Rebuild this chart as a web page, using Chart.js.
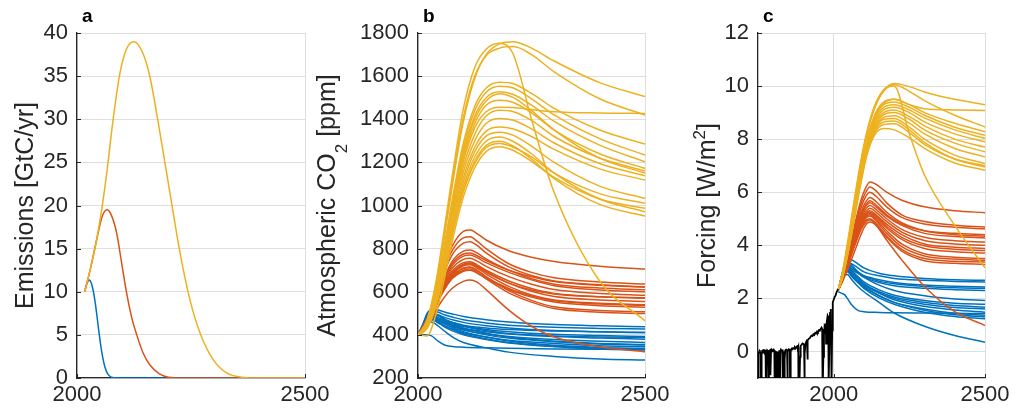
<!DOCTYPE html>
<html>
<head>
<meta charset="utf-8">
<script src="https://cdn.jsdelivr.net/npm/chart.js@4/dist/chart.umd.min.js"></script>
<style>
  html, body { margin: 0; padding: 0; background: #fff; }
  #wrap { position: relative; width: 1016px; height: 410px; }
  #wrap canvas { position: absolute; left: 0; top: 0; }
</style>
</head>
<body>
<div id="wrap">
  <canvas id="ca" width="1016" height="410"></canvas>
  <canvas id="cb" width="1016" height="410"></canvas>
  <canvas id="cc" width="1016" height="410"></canvas>
</div>
<script>
// ---------------- Panel a : emissions [GtC/yr] ----------------
const aXTicks = [2000, 2500];
const aYTicks = [0, 5, 10, 15, 20, 25, 30, 35, 40];
const aYearsBlue = [2018, 2022, 2027, 2032, 2036, 2040, 2044, 2048, 2052, 2056, 2061, 2067, 2075, 2090, 2500];
const aBlue = [10.3, 11.0, 11.35, 10.9, 10.0, 8.7, 7.1, 5.4, 3.8, 2.5, 1.3, 0.5, 0.1, 0, 0];
const aYearsRed = [2017, 2030, 2043, 2055, 2066, 2076, 2087, 2098, 2109, 2120, 2131, 2145, 2160, 2180, 2200, 2240, 2500];
const aRed = [10, 12.8, 16, 18.7, 19.5, 18.8, 16.8, 13.3, 9.8, 7.0, 5.0, 2.9, 1.5, 0.5, 0.1, 0, 0];
const aYearsYellow = [2017, 2030, 2043, 2055, 2065, 2080, 2094, 2109, 2125, 2145, 2160, 2182, 2204, 2226, 2248, 2270, 2299, 2328, 2360, 2400, 2500];
const aYellow = [10, 12.8, 16, 19.8, 23.7, 30.3, 35.3, 38.2, 39, 37.6, 34.9, 28.4, 21.4, 14.5, 9.0, 5.2, 2.1, 0.6, 0.1, 0, 0];

// ---------------- Panel b : atmospheric CO2 [ppm] ----------------
const bXTicks = [2000, 2500];
const bYTicks = [200, 400, 600, 800, 1000, 1200, 1400, 1600, 1800];
const bYearsBlue = [2000, 2010, 2020, 2030, 2045, 2060, 2080, 2100, 2150, 2200, 2300, 2400, 2500];
const bBlue = [
  [400, 440, 490, 520, 515, 505, 495, 485, 470, 460, 448, 442, 438],
  [400, 445, 500, 515, 505, 492, 480, 470, 455, 445, 435, 430, 427],
  [400, 440, 480, 500, 492, 480, 468, 458, 442, 432, 420, 414, 410],
  [400, 435, 470, 485, 475, 462, 450, 440, 425, 415, 403, 397, 392],
  [400, 440, 485, 505, 490, 472, 455, 440, 420, 405, 392, 385, 380],
  [400, 435, 470, 480, 465, 450, 435, 422, 405, 392, 378, 370, 365],
  [400, 440, 480, 495, 478, 460, 440, 425, 400, 385, 368, 358, 353],
  [400, 430, 460, 470, 455, 440, 425, 410, 390, 375, 360, 350, 345],
  [400, 438, 475, 490, 470, 450, 430, 415, 390, 372, 352, 342, 337],
  [400, 432, 465, 475, 455, 435, 415, 400, 378, 362, 345, 335, 330],
  [400, 435, 470, 478, 460, 440, 422, 405, 382, 365, 348, 338, 333],
  [400, 445, 490, 505, 488, 468, 448, 432, 408, 390, 370, 360, 355],
  [400, 425, 450, 460, 440, 415, 385, 365, 340, 320, 300, 288, 283],
  [400, 402, 400, 395, 370, 352, 345, 343, 340, 338, 335, 333, 332],
  [400, 440, 478, 490, 478, 465, 455, 445, 432, 425, 418, 414, 412],
  [400, 436, 472, 482, 468, 455, 442, 430, 415, 405, 395, 390, 388]
];
const bYearsRed = [2000, 2025, 2050, 2075, 2100, 2115, 2130, 2150, 2200, 2250, 2300, 2400, 2500];
const bRed = [
  [400, 500, 680, 810, 880, 886, 870, 840, 790, 760, 740, 718, 705],
  [400, 495, 665, 790, 850, 855, 835, 800, 730, 690, 665, 645, 636],
  [400, 490, 650, 770, 825, 832, 815, 780, 715, 675, 650, 632, 623],
  [400, 485, 630, 740, 788, 794, 780, 752, 700, 660, 635, 617, 609],
  [400, 480, 620, 720, 765, 770, 758, 735, 690, 655, 628, 608, 600],
  [400, 478, 612, 708, 750, 755, 742, 718, 670, 635, 610, 592, 584],
  [400, 475, 605, 695, 735, 739, 725, 700, 650, 615, 592, 577, 570],
  [400, 472, 598, 688, 728, 733, 720, 695, 640, 602, 578, 562, 555],
  [400, 470, 592, 680, 720, 725, 710, 682, 625, 585, 562, 547, 540],
  [400, 468, 588, 672, 710, 715, 700, 670, 605, 560, 530, 513, 507],
  [400, 465, 582, 665, 700, 705, 690, 660, 595, 552, 522, 505, 499],
  [400, 470, 595, 684, 724, 730, 716, 690, 640, 608, 590, 577, 572],
  [400, 465, 580, 660, 695, 700, 687, 662, 610, 575, 552, 535, 528],
  [400, 455, 550, 615, 648, 654, 645, 610, 515, 440, 390, 345, 322],
  [400, 480, 625, 730, 775, 780, 767, 745, 700, 670, 648, 630, 622],
  [400, 468, 585, 668, 708, 712, 698, 668, 615, 580, 558, 543, 537]
];
const bYearsYellow = [2000, 2020, 2040, 2060, 2080, 2100, 2125, 2150, 2180, 2210, 2250, 2300, 2400, 2500];
const bYellow = [
  [400, 460, 630, 880, 1150, 1390, 1590, 1700, 1750, 1760, 1730, 1670, 1570, 1505],
  [400, 470, 650, 920, 1200, 1450, 1640, 1725, 1752, 1700, 1400, 1060, 650, 465],
  [400, 465, 640, 900, 1170, 1410, 1600, 1695, 1730, 1737, 1700, 1620, 1495, 1420],
  [400, 455, 610, 840, 1080, 1290, 1460, 1545, 1572, 1565, 1520, 1450, 1350, 1285],
  [400, 452, 600, 825, 1060, 1270, 1440, 1525, 1553, 1545, 1495, 1420, 1310, 1234],
  [400, 450, 595, 815, 1045, 1250, 1415, 1500, 1527, 1515, 1465, 1390, 1280, 1203],
  [400, 445, 580, 790, 1010, 1205, 1360, 1435, 1456, 1455, 1445, 1435, 1429, 1427],
  [400, 448, 588, 800, 1025, 1220, 1380, 1465, 1488, 1478, 1430, 1350, 1240, 1172],
  [400, 443, 575, 780, 995, 1180, 1330, 1415, 1442, 1435, 1395, 1320, 1220, 1160],
  [400, 440, 565, 765, 975, 1155, 1300, 1380, 1403, 1395, 1355, 1290, 1195, 1138],
  [400, 438, 558, 750, 955, 1130, 1270, 1345, 1364, 1355, 1320, 1260, 1170, 1118],
  [400, 436, 552, 740, 940, 1110, 1250, 1322, 1340, 1325, 1275, 1200, 1090, 1033],
  [400, 432, 540, 715, 905, 1065, 1195, 1268, 1287, 1270, 1225, 1150, 1055, 1010],
  [400, 395, 500, 680, 875, 1040, 1175, 1250, 1272, 1255, 1205, 1130, 1030, 987],
  [400, 434, 545, 728, 922, 1088, 1225, 1298, 1318, 1297, 1240, 1150, 1030, 971],
  [400, 430, 538, 718, 910, 1072, 1205, 1278, 1298, 1275, 1215, 1125, 1005, 951],
  [400, 450, 592, 808, 1035, 1238, 1400, 1485, 1518, 1500, 1440, 1350, 1220, 1150]
];

// ---------------- Panel c : forcing [W/m2] ----------------
const cXTicks = [2000, 2500];
const cYTicks = [0, 2, 4, 6, 8, 10, 12];
const cHistYears = [1750, 1751, 1753, 1755, 1757, 1759, 1760, 1762, 1764, 1767, 1769, 1772, 1775, 1776, 1778, 1780, 1783, 1784, 1786, 1788, 1790, 1791, 1793, 1796, 1799, 1802, 1804, 1805, 1807, 1809, 1810, 1812, 1814, 1815, 1817, 1819, 1821, 1822, 1824, 1826, 1828, 1831, 1832, 1834, 1835, 1836, 1838, 1840, 1843, 1846, 1847, 1849, 1852, 1855, 1856, 1858, 1861, 1863, 1866, 1869, 1872, 1875, 1878, 1880, 1882, 1883, 1884, 1886, 1887, 1889, 1891, 1894, 1897, 1900, 1902, 1903, 1905, 1907, 1910, 1912, 1913, 1915, 1918, 1921, 1924, 1927, 1930, 1933, 1936, 1939, 1942, 1945, 1948, 1951, 1954, 1957, 1960, 1962, 1963, 1964, 1966, 1968, 1970, 1972, 1974, 1975, 1977, 1980, 1982, 1983, 1984, 1986, 1988, 1990, 1991, 1992, 1993, 1995, 1997, 2000, 2003, 2006, 2010, 2015];
const cHist = [0.02, -1.5, -0.1, 0.03, 0.0, 0.04, -1.2, -0.1, 0.02, 0.05, 0.0, 0.04, 0.03, -1.4, -0.05, 0.05, 0.02, -1.6, -0.3, 0.03, 0.05, -0.9, 0.0, 0.06, 0.02, 0.07, 0.03, -1.3, 0.0, 0.02, -1.8, -0.3, 0.0, -2.5, -0.8, -0.1, 0.05, -1.6, -0.1, 0.06, 0.03, 0.04, -1.5, -0.1, 0.0, -1.7, -0.3, 0.04, 0.07, 0.05, -1.2, 0.0, 0.08, 0.06, -1.3, 0.0, 0.1, 0.08, 0.13, 0.1, 0.16, 0.12, 0.18, 0.2, 0.15, 0.18, -1.9, -0.5, -1.2, -0.2, 0.22, 0.25, 0.3, 0.28, 0.25, -1.1, -0.1, 0.3, 0.38, 0.3, -0.3, 0.42, 0.48, 0.5, 0.56, 0.6, 0.58, 0.65, 0.62, 0.7, 0.68, 0.75, 0.72, 0.8, 0.78, 0.85, 0.9, 0.85, -0.2, -1.5, -0.2, 0.6, 0.95, 0.9, 1.05, 0.3, 1.1, 1.35, 1.3, -0.5, -1.2, 0.5, 1.45, 1.6, 1.55, -0.2, -1.3, 0.8, 1.85, 1.95, 2.05, 2.1, 2.25, 2.35];
const cYearsBlue = [2015, 2025, 2035, 2045, 2060, 2080, 2100, 2150, 2200, 2300, 2400, 2500];
const cBlue = [
  [2.3, 2.8, 3.25, 3.5, 3.45, 3.3, 3.15, 2.95, 2.85, 2.75, 2.7, 2.68],
  [2.3, 2.75, 3.15, 3.35, 3.3, 3.15, 3.0, 2.85, 2.75, 2.68, 2.64, 2.62],
  [2.3, 2.7, 3.05, 3.2, 3.1, 2.95, 2.85, 2.7, 2.6, 2.5, 2.46, 2.43],
  [2.3, 2.75, 3.1, 3.25, 3.1, 2.95, 2.8, 2.6, 2.48, 2.38, 2.33, 2.3],
  [2.3, 2.78, 3.2, 3.4, 3.25, 3.0, 2.8, 2.5, 2.3, 2.1, 1.98, 1.92],
  [2.3, 2.7, 3.0, 3.1, 2.95, 2.75, 2.55, 2.25, 2.05, 1.85, 1.73, 1.67],
  [2.3, 2.72, 3.05, 3.15, 2.98, 2.75, 2.55, 2.2, 1.95, 1.7, 1.56, 1.48],
  [2.3, 2.65, 2.95, 3.0, 2.82, 2.6, 2.42, 2.1, 1.85, 1.6, 1.44, 1.36],
  [2.3, 2.7, 3.0, 3.08, 2.9, 2.65, 2.45, 2.1, 1.85, 1.55, 1.38, 1.3],
  [2.3, 2.68, 2.98, 3.05, 2.85, 2.6, 2.38, 2.02, 1.78, 1.48, 1.32, 1.23],
  [2.3, 2.6, 2.85, 2.9, 2.7, 2.45, 2.25, 1.85, 1.45, 0.95, 0.6, 0.35],
  [2.25, 2.2, 2.15, 2.0, 1.75, 1.55, 1.5, 1.47, 1.46, 1.45, 1.44, 1.43],
  [2.3, 2.74, 3.1, 3.22, 3.05, 2.82, 2.62, 2.32, 2.12, 1.92, 1.82, 1.78],
  [2.3, 2.66, 2.95, 3.02, 2.88, 2.68, 2.5, 2.2, 2.0, 1.78, 1.66, 1.6],
  [2.3, 2.76, 3.15, 3.3, 3.18, 3.0, 2.85, 2.65, 2.55, 2.45, 2.4, 2.38]
];
const cYearsRed = [2015, 2030, 2050, 2070, 2090, 2105, 2120, 2140, 2175, 2225, 2300, 2400, 2500];
const cRed = [
  [2.3, 2.9, 3.8, 4.8, 5.7, 6.15, 6.39, 6.3, 6.0, 5.7, 5.45, 5.3, 5.23],
  [2.3, 2.9, 3.75, 4.7, 5.55, 5.98, 6.2, 6.05, 5.6, 5.15, 4.9, 4.76, 4.69],
  [2.3, 2.85, 3.7, 4.6, 5.4, 5.82, 6.0, 5.85, 5.45, 5.05, 4.8, 4.68, 4.62],
  [2.3, 2.85, 3.65, 4.5, 5.25, 5.62, 5.8, 5.65, 5.25, 4.85, 4.55, 4.4, 4.34],
  [2.3, 2.8, 3.6, 4.4, 5.1, 5.45, 5.6, 5.45, 5.1, 4.75, 4.45, 4.33, 4.28],
  [2.3, 2.8, 3.55, 4.35, 5.0, 5.35, 5.5, 5.35, 5.0, 4.6, 4.3, 4.17, 4.12],
  [2.3, 2.78, 3.5, 4.3, 4.95, 5.25, 5.4, 5.25, 4.9, 4.5, 4.18, 4.05, 4.0],
  [2.3, 2.78, 3.5, 4.25, 4.9, 5.18, 5.3, 5.15, 4.8, 4.4, 4.05, 3.93, 3.88],
  [2.3, 2.75, 3.45, 4.2, 4.82, 5.1, 5.2, 5.05, 4.65, 4.22, 3.88, 3.76, 3.71],
  [2.3, 2.75, 3.45, 4.15, 4.75, 5.05, 5.15, 4.98, 4.55, 4.05, 3.68, 3.55, 3.5],
  [2.3, 2.72, 3.4, 4.1, 4.7, 5.0, 5.1, 4.92, 4.45, 3.95, 3.6, 3.48, 3.44],
  [2.3, 2.72, 3.38, 4.05, 4.65, 4.92, 5.0, 4.82, 4.35, 3.85, 3.5, 3.4, 3.37],
  [2.3, 2.7, 3.35, 4.0, 4.58, 4.85, 4.95, 4.78, 4.3, 3.78, 3.42, 3.32, 3.28],
  [2.3, 2.65, 3.2, 3.8, 4.4, 4.75, 4.88, 4.75, 4.2, 3.45, 2.45, 1.5, 0.98],
  [2.3, 2.82, 3.62, 4.45, 5.15, 5.5, 5.68, 5.52, 5.15, 4.8, 4.55, 4.45, 4.4],
  [2.3, 2.76, 3.48, 4.22, 4.85, 5.15, 5.25, 5.1, 4.72, 4.3, 3.98, 3.85, 3.8]
];
const cYearsYellow = [2015, 2030, 2050, 2070, 2090, 2110, 2135, 2165, 2200, 2250, 2300, 2400, 2500];
const cYellow = [
  [2.3, 3.0, 4.3, 5.7, 7.1, 8.2, 9.2, 9.85, 10.0, 8.2, 6.65, 4.75, 3.15],
  [2.3, 3.05, 4.4, 5.85, 7.2, 8.3, 9.25, 9.85, 10.1, 9.98, 9.78, 9.5, 9.3],
  [2.3, 3.0, 4.3, 5.75, 7.1, 8.2, 9.15, 9.8, 10.05, 9.8, 9.45, 8.9, 8.46],
  [2.3, 2.95, 4.2, 5.55, 6.85, 7.95, 8.85, 9.35, 9.5, 9.3, 9.15, 9.1, 9.08],
  [2.3, 2.95, 4.2, 5.55, 6.85, 7.95, 8.9, 9.4, 9.5, 9.3, 9.0, 8.6, 8.28],
  [2.3, 2.95, 4.15, 5.5, 6.8, 7.9, 8.8, 9.3, 9.4, 9.2, 8.9, 8.45, 8.15],
  [2.3, 2.9, 4.1, 5.45, 6.75, 7.85, 8.75, 9.2, 9.3, 9.1, 8.8, 8.35, 8.03],
  [2.3, 2.9, 4.1, 5.4, 6.7, 7.8, 8.65, 9.1, 9.2, 9.0, 8.65, 8.2, 7.9],
  [2.3, 2.9, 4.05, 5.35, 6.65, 7.75, 8.6, 9.0, 9.1, 8.85, 8.5, 8.0, 7.7],
  [2.3, 2.88, 4.0, 5.3, 6.6, 7.7, 8.5, 8.92, 9.0, 8.75, 8.35, 7.85, 7.52],
  [2.3, 2.88, 4.0, 5.3, 6.55, 7.6, 8.42, 8.82, 8.88, 8.6, 8.2, 7.65, 7.33],
  [2.3, 2.85, 3.95, 5.2, 6.5, 7.55, 8.35, 8.75, 8.78, 8.45, 8.0, 7.4, 7.08],
  [2.3, 2.85, 3.9, 5.15, 6.45, 7.5, 8.3, 8.65, 8.68, 8.35, 7.88, 7.25, 6.95],
  [2.3, 2.8, 3.85, 5.1, 6.35, 7.4, 8.15, 8.4, 8.35, 8.05, 7.65, 7.1, 6.83],
  [2.3, 2.82, 3.88, 5.12, 6.4, 7.45, 8.22, 8.55, 8.58, 8.25, 7.8, 7.25, 7.0]
];

// ---------------- styling ----------------
const BLUE = '#0072BD', RED = '#D95319', YELLOW = '#EDB120', BLACK = '#000000';
const FONT = '"Liberation Sans", Arial, Helvetica, sans-serif';
const AXIS = '#262626', GRID = '#dedede';
Chart.defaults.font.family = FONT;

function pts(years, vals) { return years.map((x, i) => ({ x: x, y: vals[i] })); }
function ds(years, vals, color, order, smooth, width) {
  return {
    data: pts(years, vals), borderColor: color, borderWidth: width || 1.5,
    pointRadius: 0, fill: false, order: order,
    cubicInterpolationMode: smooth ? 'monotone' : 'default', tension: 0
  };
}
function group(years, lines, color, order) { return lines.map(v => ds(years, v, color, order, true)); }

const decor = {
  id: 'decor',
  afterDraw(chart, args, o) {
    const ctx = chart.ctx, a = chart.chartArea;
    const xs = chart.scales.x, ys = chart.scales.y;
    ctx.save();
    ctx.strokeStyle = AXIS; ctx.lineWidth = 1;
    ys.ticks.forEach(t => {
      const py = Math.round(ys.getPixelForValue(t.value)) + 0.5;
      ctx.beginPath(); ctx.moveTo(a.left, py); ctx.lineTo(a.left + 4, py); ctx.stroke();
    });
    xs.ticks.forEach(t => {
      const px = Math.round(xs.getPixelForValue(t.value)) + 0.5;
      ctx.beginPath(); ctx.moveTo(px, a.bottom); ctx.lineTo(px, a.bottom - 4); ctx.stroke();
    });
    ctx.fillStyle = '#000';
    ctx.font = 'bold 19px ' + FONT;
    ctx.textAlign = 'left'; ctx.textBaseline = 'alphabetic';
    ctx.fillText(o.label, a.left + 5, 22);
    ctx.fillStyle = AXIS;
    ctx.translate(o.titleX, (a.top + a.bottom) / 2);
    ctx.rotate(-Math.PI / 2);
    let total = 0;
    o.parts.forEach(p => { ctx.font = (p.size || 25) + 'px ' + FONT; p.w = ctx.measureText(p.text).width; total += p.w; });
    let x = -total / 2;
    o.parts.forEach(p => { ctx.font = (p.size || 25) + 'px ' + FONT; ctx.fillText(p.text, x, p.dy || 0); x += p.w; });
    ctx.restore();
  }
};

function makeChart(id, c) {
  const tickFont = { size: 22, family: FONT };
  return new Chart(document.getElementById(id), {
    type: 'line',
    data: { datasets: c.datasets },
    options: {
      responsive: false, animation: false, events: [],
      layout: { padding: { left: c.left - 70, right: 1016 - c.right, top: 33, bottom: 0 } },
      plugins: { legend: { display: false }, tooltip: { enabled: false }, decor: c.decor },
      scales: {
        x: {
          type: 'linear', min: c.xmin, max: c.xmax,
          afterBuildTicks: s => { s.ticks = c.xticks.map(v => ({ value: v })); },
          afterFit: s => { s.height = 32; },
          grid: { color: GRID, lineWidth: 1, drawTicks: false },
          border: { color: AXIS, width: 1.3 },
          ticks: { font: tickFont, color: AXIS, padding: 4, maxRotation: 0, autoSkip: false, callback: v => String(v) }
        },
        y: {
          type: 'linear', min: c.ymin, max: c.ymax,
          afterBuildTicks: s => { s.ticks = c.yticks.map(v => ({ value: v })); },
          afterFit: s => { s.width = 70; },
          grid: { color: GRID, lineWidth: 1, drawTicks: false },
          border: { color: AXIS, width: 1.3 },
          ticks: { font: tickFont, color: AXIS, padding: 9, autoSkip: false, callback: v => String(v) }
        }
      }
    },
    plugins: [decor]
  });
}

makeChart('ca', {
  left: 77, right: 305, xmin: 2000, xmax: 2500, ymin: 0, ymax: 40, xticks: aXTicks, yticks: aYTicks,
  datasets: [
    ds(aYearsYellow, aYellow, YELLOW, 1, true),
    ds(aYearsRed, aRed, RED, 2, true),
    ds(aYearsBlue, aBlue, BLUE, 3, true)
  ],
  decor: { label: 'a', titleX: 33, parts: [{ text: 'Emissions [GtC/yr]' }] }
});

makeChart('cb', {
  left: 418, right: 645, xmin: 2000, xmax: 2500, ymin: 200, ymax: 1800, xticks: bXTicks, yticks: bYTicks,
  datasets: [].concat(group(bYearsYellow, bYellow, YELLOW, 1), group(bYearsRed, bRed, RED, 2), group(bYearsBlue, bBlue, BLUE, 3)),
  decor: { label: 'b', titleX: 335, parts: [{ text: 'Atmospheric CO' }, { text: '2', size: 17, dy: 12 }, { text: ' [ppm]' }] }
});

makeChart('cc', {
  left: 758, right: 985, xmin: 1750, xmax: 2500, ymin: -1, ymax: 12, xticks: cXTicks, yticks: cYTicks,
  datasets: [].concat([ds(cHistYears, cHist, BLACK, 0, false, 1.8)], group(cYearsYellow, cYellow, YELLOW, 1), group(cYearsRed, cRed, RED, 2), group(cYearsBlue, cBlue, BLUE, 3)),
  decor: { label: 'c', titleX: 715, parts: [{ text: 'Forcing [W/m' }, { text: '2', size: 17, dy: -10 }, { text: ']' }] }
});
</script>
</body>
</html>
